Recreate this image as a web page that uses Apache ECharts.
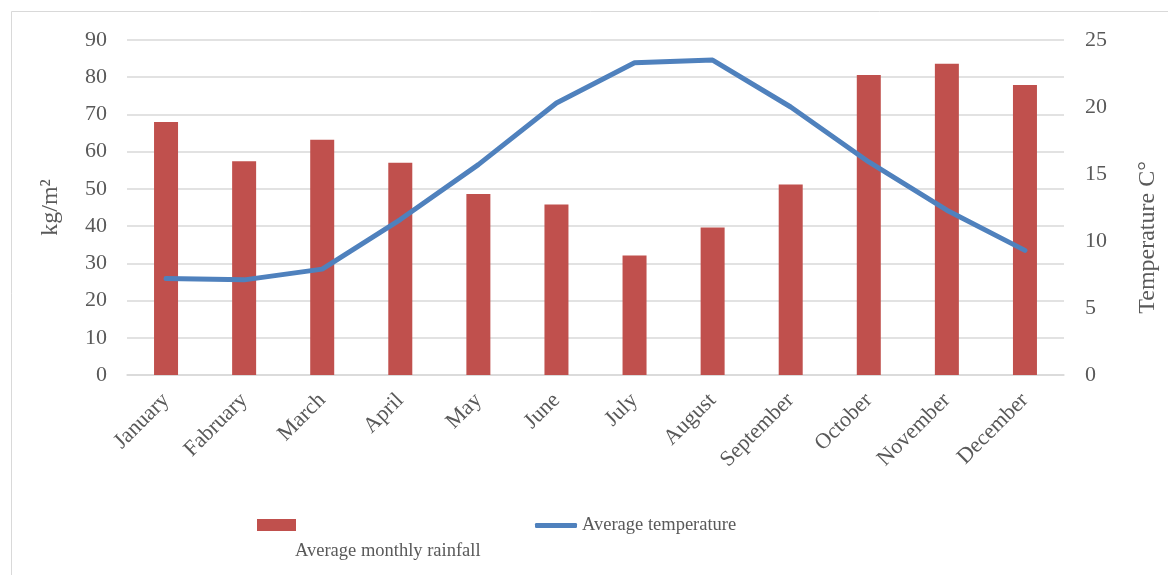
<!DOCTYPE html>
<html>
<head>
<meta charset="utf-8">
<script src="https://cdn.jsdelivr.net/npm/echarts@6/dist/echarts.min.js"></script>
<style>
  html, body { margin: 0; padding: 0; background: #fff; }
  #chart { width: 1168px; height: 575px; }
</style>
</head>
<body>
<div id="chart"></div>
<script>
const months = ['January', 'Fabruary', 'March', 'April', 'May', 'June', 'July', 'August', 'September', 'October', 'November', 'December'];
const rainfall = [68.0, 57.4, 63.2, 57.0, 48.6, 45.8, 32.1, 39.6, 51.2, 80.6, 83.6, 77.9];
const temperature = [7.2, 7.1, 7.9, 11.6, 15.7, 20.3, 23.3, 23.5, 20.0, 15.9, 12.3, 9.3];
const rainTicks = { min: 0, max: 90, step: 10 };
const tempTicks = { min: 0, max: 25, step: 5 };

const FONT = '"Liberation Serif", "DejaVu Serif", serif';
const TXT = '#595959';
const COLORS = { rain: '#C0504D', temp: '#4F81BD', grid: '#D9D9D9' };

const myChart = echarts.init(document.getElementById('chart'));

myChart.setOption({
    backgroundColor: '#ffffff',
    textStyle: { fontFamily: FONT },
    animation: false,
    grid: { left: 127, right: 102, top: 40, bottom: 200 },
    graphic: [
        // outer frame (only top and left edges are visible in the original)
        { type: 'rect', left: 11, top: 11, silent: true,
          shape: { width: 1300, height: 700 },
          style: { fill: 'transparent', stroke: '#D9D9D9', lineWidth: 1 } },
        { type: 'text', left: 295, top: 542,
          style: { text: 'Average monthly rainfall', fill: TXT, font: '18.5px ' + FONT } }
    ],
    legend: [
        { data: ['Average monthly rainfall'], left: 252, top: 514, icon: 'rect',
          itemWidth: 39, itemHeight: 12, formatter: () => '', selectedMode: false,
          textStyle: { fontSize: 1 } },
        { data: ['Average temperature'], left: 530, top: 511, icon: 'roundRect',
          itemWidth: 42, itemHeight: 5, itemGap: 4, selectedMode: false,
          textStyle: { color: TXT, fontSize: 18.5, fontFamily: FONT } }
    ],
    xAxis: {
        type: 'category',
        data: months,
        axisTick: { show: false },
        axisLine: { lineStyle: { color: COLORS.grid, width: 1.5 } },
        axisLabel: { rotate: 45, color: TXT, fontSize: 22, fontFamily: FONT, margin: 22, interval: 0 }
    },
    yAxis: [
        {
            type: 'value', min: rainTicks.min, max: rainTicks.max, interval: rainTicks.step,
            name: 'kg/m²', nameLocation: 'middle', nameGap: 64, nameRotate: 90,
            nameTextStyle: { color: TXT, fontSize: 24, fontFamily: FONT },
            axisLabel: { color: TXT, fontSize: 22, fontFamily: FONT, margin: 20 },
            splitLine: { lineStyle: { color: COLORS.grid, width: 1.5 } },
            axisLine: { show: false }, axisTick: { show: false }
        },
        {
            type: 'value', min: tempTicks.min, max: tempTicks.max, interval: tempTicks.step,
            name: 'Temperature C°', nameLocation: 'middle', nameGap: 72, nameRotate: 90,
            nameTextStyle: { color: TXT, fontSize: 24, fontFamily: FONT, padding: [0, 60, 0, 0] },
            axisLabel: { color: TXT, fontSize: 22, fontFamily: FONT, margin: 21 },
            splitLine: { show: false },
            axisLine: { show: false }, axisTick: { show: false }
        }
    ],
    series: [
        {
            name: 'Average monthly rainfall',
            type: 'bar',
            data: rainfall,
            barWidth: 24,
            itemStyle: { color: COLORS.rain }
        },
        {
            name: 'Average temperature',
            type: 'line',
            yAxisIndex: 1,
            data: temperature,
            symbol: 'none',
            lineStyle: { color: COLORS.temp, width: 5, cap: 'round' },
            itemStyle: { color: COLORS.temp }
        }
    ]
});

window.addEventListener('resize', () => myChart.resize());
</script>
</body>
</html>
